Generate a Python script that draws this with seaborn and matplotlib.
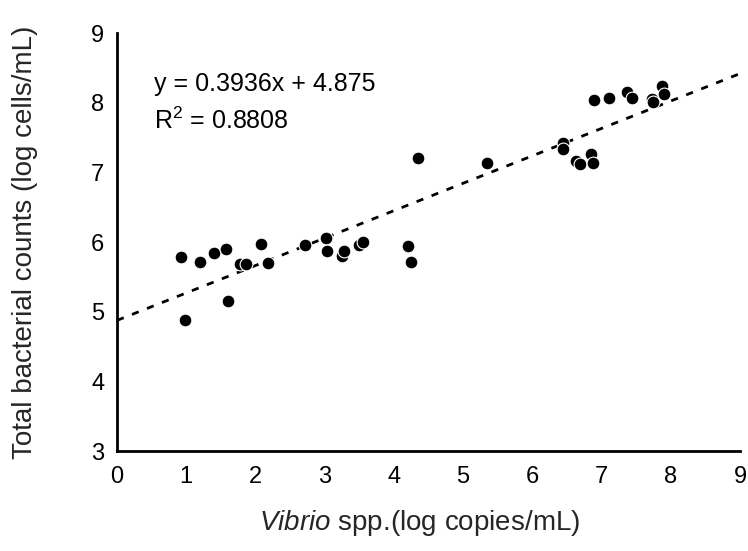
import matplotlib
matplotlib.use("Agg")
import matplotlib.pyplot as plt
import seaborn as sns
import numpy as np
import pandas as pd

# ---- data ----
vibrio = [0.93, 0.98, 1.20, 1.40, 1.58, 1.61, 1.78, 1.86, 2.08, 2.18,
          2.71, 3.02, 3.03, 3.25, 3.28, 3.49, 3.55, 4.20, 4.24, 4.35,
          5.35, 6.44, 6.44, 6.63, 6.69, 6.85, 6.88, 6.89, 7.11, 7.37,
          7.44, 7.73, 7.75, 7.88, 7.90]
total_counts = [5.79, 4.88, 5.72, 5.84, 5.90, 5.16, 5.68, 5.68, 5.97, 5.70,
                5.95, 6.06, 5.87, 5.80, 5.87, 5.96, 6.00, 5.94, 5.71, 7.20,
                7.14, 7.42, 7.34, 7.16, 7.12, 7.26, 7.14, 8.04, 8.06, 8.16,
                8.06, 8.05, 8.01, 8.24, 8.12]
slope = 0.3936
intercept = 4.875
r_squared = 0.8808
trend_x = [0, 9]
x_ticks = [0, 1, 2, 3, 4, 5, 6, 7, 8, 9]
y_ticks = [3, 4, 5, 6, 7, 8, 9]

df = pd.DataFrame({"vibrio": vibrio, "tbc": total_counts})
trend = pd.DataFrame({"x": trend_x,
                      "y": [slope * v + intercept for v in trend_x]})

sns.set_theme(style="white")
plt.rcParams["font.family"] = ["Liberation Sans", "DejaVu Sans"]
plt.rcParams["mathtext.fontset"] = "custom"
plt.rcParams["mathtext.rm"] = "Liberation Sans"
plt.rcParams["mathtext.it"] = "Liberation Sans:italic"

fig = plt.figure(figsize=(7.48, 5.51), dpi=100)
ax = fig.add_axes([117 / 748, 1 - 451 / 551, 623 / 748, 418 / 551])

sns.lineplot(data=trend, x="x", y="y", ax=ax, color="black",
             linestyle=(0, (2.6, 3.2)), linewidth=2)
sns.scatterplot(data=df, x="vibrio", y="tbc", ax=ax, color="black",
                s=85, edgecolor="white", linewidth=0.8, zorder=3)

ax.set_xlim(0, 9)
ax.set_ylim(3, 9)
ax.set_xticks(x_ticks)
ax.set_yticks(y_ticks)
ax.tick_params(axis="both", direction="in", length=5, width=1,
               colors="black", labelsize=17)
ax.tick_params(axis="y", pad=9)
ax.tick_params(axis="x", pad=11)

for side in ["top", "right"]:
    ax.spines[side].set_visible(False)
for side in ["left", "bottom"]:
    ax.spines[side].set_color("black")
    ax.spines[side].set_linewidth(2)

ax.set_xlabel(r"$\it{Vibrio}$ spp.(log copies/mL)", fontsize=20, va="center")
ax.set_ylabel("Total bacterial counts (log cells/mL)", fontsize=20, va="center")
ax.xaxis.set_label_coords(0.485, -0.172)
ax.yaxis.set_label_coords(-0.148, 0.5)

ax.text(0.53, 8.27, f"y = {slope}x + {intercept}", fontsize=18, va="center",
        ha="left", color="black")
ax.text(0.53, 7.74, f"R$^2$ = {r_squared}", fontsize=18, va="center",
        ha="left", color="black")

fig.savefig("out.png", dpi=100)
